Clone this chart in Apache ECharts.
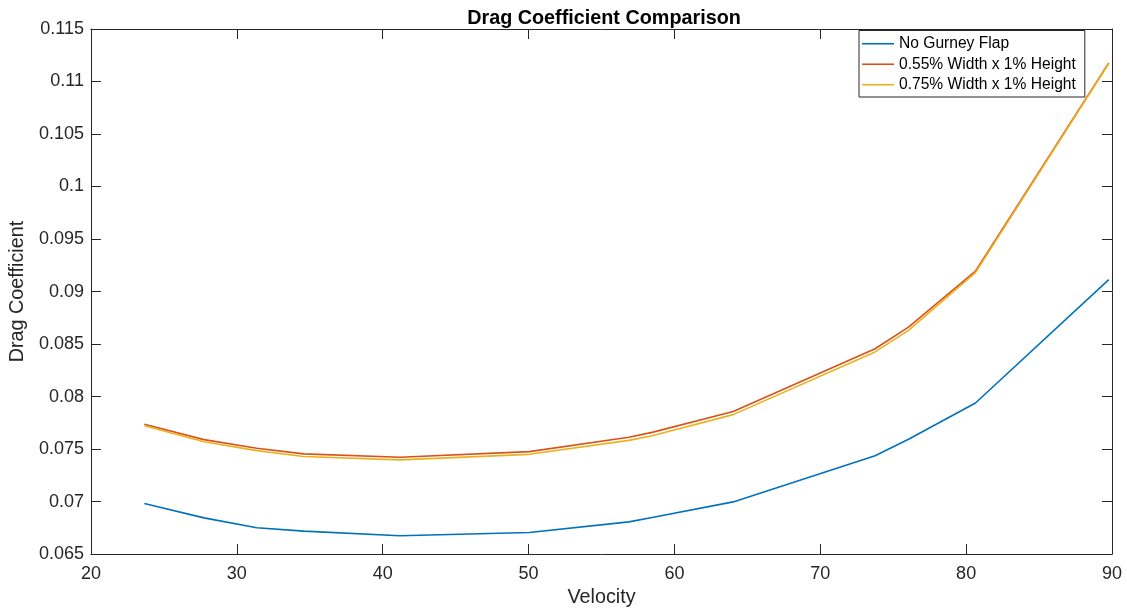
<!DOCTYPE html>
<html>
<head>
<meta charset="utf-8">
<script src="https://cdn.jsdelivr.net/npm/echarts@6/dist/echarts.min.js"></script>
<style>
html,body{margin:0;padding:0;background:#fff;}
#chart{width:1127px;height:613px;}
</style>
</head>
<body>
<div id="chart"></div>
<script>
var velocity = [23.66, 27.75, 31.37, 34.58, 41.18, 50.05, 56.88, 58.47, 64.03, 73.76, 76.05, 80.64, 89.78];
var noFlap   = [0.06981, 0.06845, 0.06751, 0.06719, 0.06675, 0.06706, 0.06807, 0.06848, 0.06997, 0.07437, 0.07593, 0.07939, 0.09113];
var flap055  = [0.07737, 0.07590, 0.07508, 0.07454, 0.07422, 0.07476, 0.07612, 0.07659, 0.07858, 0.08455, 0.08661, 0.09195, 0.11178];
var flap075  = [0.07722, 0.07570, 0.07485, 0.07430, 0.07397, 0.07450, 0.07583, 0.07627, 0.07828, 0.08425, 0.08630, 0.09180, 0.11170];
var seriesNames = ['No Gurney Flap', '0.55% Width x 1% Height', '0.75% Width x 1% Height'];
var xTicks = [20, 30, 40, 50, 60, 70, 80, 90];
var yTicks = [0.065, 0.07, 0.075, 0.08, 0.085, 0.09, 0.095, 0.1, 0.105, 0.11, 0.115];

function pairs(xs, ys){ return xs.map(function(x,i){ return [x, ys[i]]; }); }

var FONT = 'Liberation Sans, Arial, Helvetica, sans-serif';
var AX = '#262626';
var xMin = xTicks[0], xMax = xTicks[xTicks.length-1], xInt = xTicks[1]-xTicks[0];
var yMin = yTicks[0], yMax = yTicks[yTicks.length-1], yInt = 0.005;

function xAxisDef(pos, show){
  return {
    type:'value', position:pos, min:xMin, max:xMax, interval:xInt,
    axisLine:{show:true, onZero:false, lineStyle:{color:AX, width:1}},
    axisTick:{show:true, inside:true, length:10, lineStyle:{color:AX, width:1}},
    axisLabel:{show:show, color:AX, fontFamily:FONT, fontSize:18, margin:11},
    splitLine:{show:false},
    name: show ? 'Velocity' : '', nameLocation:'middle', nameGap:33,
    nameTextStyle:{color:AX, fontFamily:FONT, fontSize:19.8}
  };
}
function yAxisDef(pos, show){
  return {
    type:'value', position:pos, min:yMin, max:yMax, interval:yInt,
    axisLine:{show:true, onZero:false, lineStyle:{color:AX, width:1}},
    axisTick:{show:true, inside:true, length:10, lineStyle:{color:AX, width:1}},
    axisLabel:{show:show, color:AX, fontFamily:FONT, fontSize:18, margin:7,
      formatter:function(v){ return String(parseFloat(v.toFixed(3))); }},
    splitLine:{show:false},
    name: show ? 'Drag Coefficient' : '', nameLocation:'middle', nameGap:54,
    nameTextStyle:{color:AX, fontFamily:FONT, fontSize:19.8}
  };
}

var colors = ['#0072BD', '#D95319', '#EDB120'];
var datasets = [noFlap, flap055, flap075];

var chart = echarts.init(document.getElementById('chart'), null, {renderer:'canvas'});
chart.setOption({
  animation:false,
  backgroundColor:'#ffffff',
  title:{
    text:'Drag Coefficient Comparison', left:599, top:4, textAlign:'center',
    textStyle:{color:'#000', fontFamily:FONT, fontSize:19.8, fontWeight:'bold'}
  },
  grid:{left:86, right:15, top:29, bottom:55.5, containLabel:false},
  legend:{
    orient:'vertical', left:859, top:30.5,
    padding:[3, 9, 2, 3],
    icon:'rect', itemWidth:32, itemHeight:1.6, itemGap:0,
    backgroundColor:'#fff', borderColor:AX, borderWidth:1,
    textStyle:{color:'#000', fontFamily:FONT, fontSize:15.6, lineHeight:20.5},
    data:seriesNames.map(function(n,i){ return {name:n, icon:'rect', itemStyle:{color:colors[i]}}; })
  },
  xAxis:[xAxisDef('bottom', true), xAxisDef('top', false)],
  yAxis:[yAxisDef('left', true), yAxisDef('right', false)],
  series: seriesNames.map(function(n,i){
    return {
      name:n, type:'line', xAxisIndex:0, yAxisIndex:0,
      data:pairs(velocity, datasets[i]),
      symbol:'none', showSymbol:false,
      lineStyle:{color:colors[i], width:1.6},
      itemStyle:{color:colors[i]}
    };
  })
});
</script>
</body>
</html>
